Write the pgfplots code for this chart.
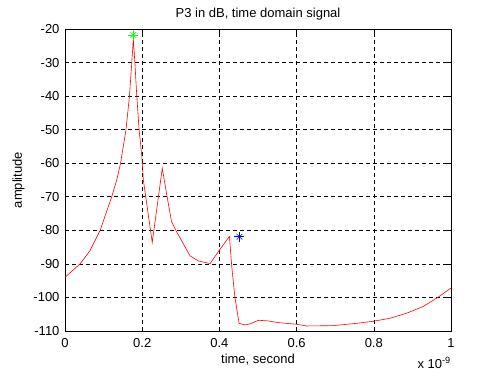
\documentclass[border=0pt]{standalone}
\usepackage{fontspec}
\setmainfont{Liberation Sans}
\usepackage{pgfplots}
\pgfplotsset{compat=1.18}
\begin{document}
\fontsize{13pt}{15pt}\selectfont
\begin{tikzpicture}
\path[use as bounding box] (-65pt,-44pt) rectangle (435pt,331pt);
\begin{axis}[
  at={(0pt,0pt)}, anchor=south west,
  scale only axis, width=386pt, height=302pt,
  xmin=0, xmax=1, ymin=-110, ymax=-20,
  xtick={0,0.2,0.4,0.6,0.8,1}, xticklabels={0,0.2,0.4,0.6,0.8,1},
  ytick={-110,-100,-90,-80,-70,-60,-50,-40,-30,-20},
  /pgf/number format/assume math mode=true,
  ticklabel style={font=\fontsize{13pt}{15pt}\selectfont},
  xticklabel style={yshift=-3pt},
  yticklabel style={xshift=-1pt},
  grid=major,
  major grid style={black, dash pattern=on 4pt off 3pt, line width=0.6pt},
  tick align=inside, major tick length=4pt,
  tick style={black, line width=0.6pt},
  axis line style={black, line width=0.6pt},
  title={P3 in dB, time domain signal},
  title style={font=\fontsize{13pt}{15pt}\selectfont, yshift=-2pt},
  xlabel={time, second},
  xlabel style={font=\fontsize{13pt}{15pt}\selectfont, yshift=3pt},
  ylabel={amplitude},
  ylabel style={font=\fontsize{13pt}{15pt}\selectfont},
  clip=false,
]
\addplot[red, line width=0.6pt] coordinates {
(0.000,-94.0) (0.039,-90.0) (0.065,-86.0) (0.091,-80.0) (0.121,-70.0)
(0.134,-65.0) (0.144,-60.0) (0.158,-50.0) (0.167,-40.0) (0.173,-30.0)
(0.177,-23.0) (0.181,-30.0) (0.186,-40.0) (0.192,-50.0) (0.199,-58.0)
(0.203,-65.0) (0.226,-83.6) (0.252,-61.5) (0.263,-69.0) (0.276,-77.4)
(0.289,-80.4) (0.306,-83.9) (0.324,-87.6) (0.345,-89.1) (0.376,-89.9)
(0.400,-85.9) (0.426,-81.8) (0.432,-90.8) (0.440,-99.8) (0.451,-107.7)
(0.466,-108.2) (0.479,-107.9) (0.501,-106.8) (0.527,-107.0) (0.553,-107.5)
(0.600,-108.0) (0.626,-108.5) (0.695,-108.4) (0.756,-107.7) (0.799,-107.1)
(0.842,-106.2) (0.885,-104.7) (0.928,-102.7) (0.963,-100.2) (1.000,-97.2)
};
\addplot[only marks, mark=+, mark size=5pt, color={rgb,1:red,0;green,1;blue,0}, mark options={line width=0.6pt}] coordinates {(0.177,-21.8)};
\addplot[only marks, mark=x, mark size=4pt, color={rgb,1:red,0;green,1;blue,0}, mark options={line width=0.6pt}] coordinates {(0.177,-21.8)};
\addplot[only marks, mark=+, mark size=5pt, blue, mark options={line width=0.6pt}] coordinates {(0.452,-81.9)};
\addplot[only marks, mark=x, mark size=4pt, blue, mark options={line width=0.6pt}] coordinates {(0.452,-81.9)};
\node[anchor=base east, inner sep=0pt] at (rel axis cs:1,0) [yshift=-37pt] {x 10\textsuperscript{-9}};
\end{axis}
\end{tikzpicture}
\end{document}
